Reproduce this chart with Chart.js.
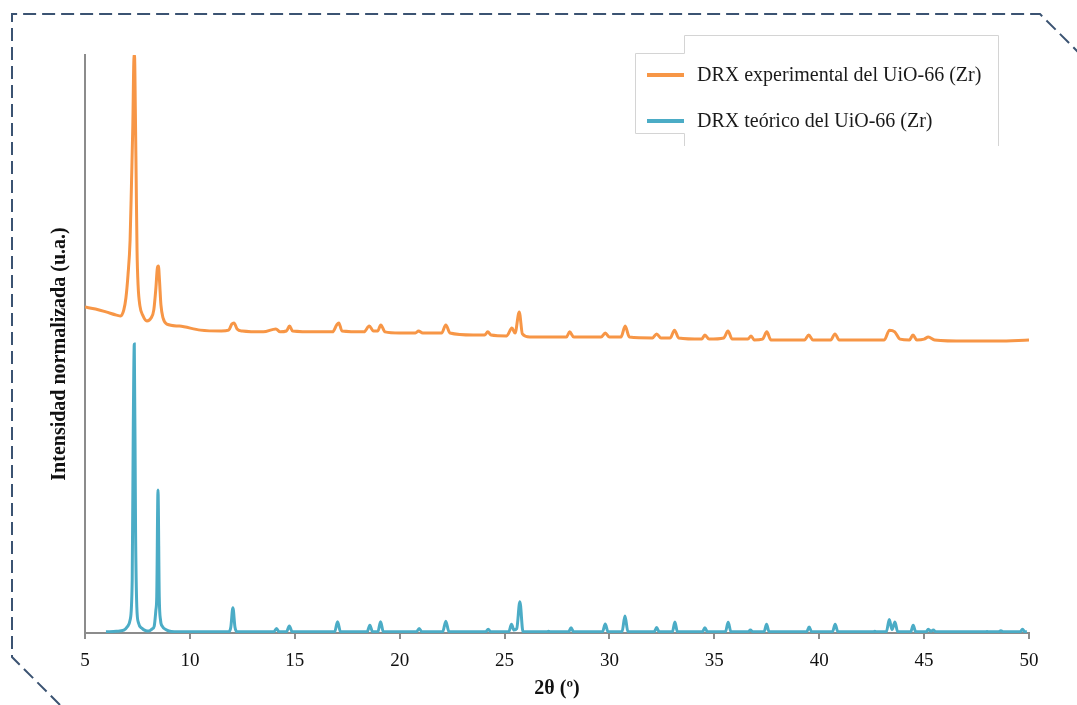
<!DOCTYPE html>
<html>
<head>
<meta charset="utf-8">
<script src="https://cdn.jsdelivr.net/npm/chart.js@4"></script>
<style>
  html, body { margin: 0; background: #fff; }
</style>
</head>
<body>
<canvas id="drx" width="1077" height="705"></canvas>
<script>
// Difractograma experimental (2θ, intensidad normalizada, desplazado hacia arriba)
const experimental = [
  [5.0, 1.128], [5.5, 1.121], [6.0, 1.111], [6.5, 1.100], [6.7, 1.097], [6.85, 1.118],
  [6.95, 1.159], [7.05, 1.239], [7.15, 1.360], [7.22, 1.567], [7.28, 1.758], [7.33, 1.983],
  [7.36, 2.000], [7.40, 1.810], [7.44, 1.567], [7.48, 1.325], [7.53, 1.204], [7.62, 1.131],
  [7.75, 1.100], [7.95, 1.080], [8.15, 1.090], [8.28, 1.118], [8.38, 1.194], [8.45, 1.263],
  [8.5, 1.270], [8.55, 1.221], [8.62, 1.135], [8.72, 1.090], [8.9, 1.069], [9.5, 1.062],
  [10.5, 1.048], [11.5, 1.045], [11.85, 1.048], [12.0, 1.069], [12.1, 1.073], [12.25, 1.052],
  [12.5, 1.045], [13.5, 1.042], [14.1, 1.052], [14.3, 1.042], [14.6, 1.045], [14.75, 1.062],
  [14.9, 1.045], [16.0, 1.042], [16.8, 1.042], [17.0, 1.066], [17.1, 1.073], [17.25, 1.045],
  [18.3, 1.042], [18.55, 1.062], [18.75, 1.045], [18.95, 1.045], [19.1, 1.066], [19.3, 1.042],
  [20.0, 1.038], [20.75, 1.038], [20.9, 1.045], [21.1, 1.038], [22.0, 1.038], [22.2, 1.066],
  [22.4, 1.038], [23.5, 1.031], [24.05, 1.031], [24.2, 1.042], [24.35, 1.031], [25.1, 1.028],
  [25.35, 1.055], [25.5, 1.038], [25.7, 1.111], [25.85, 1.035], [26.2, 1.024], [27.5, 1.024],
  [27.95, 1.024], [28.1, 1.042], [28.3, 1.024], [29.6, 1.024], [29.8, 1.038], [30.0, 1.024],
  [30.55, 1.024], [30.75, 1.062], [30.95, 1.024], [32.05, 1.021], [32.25, 1.035], [32.45, 1.021],
  [32.9, 1.021], [33.1, 1.048], [33.3, 1.021], [34.4, 1.017], [34.55, 1.031], [34.75, 1.017],
  [35.45, 1.021], [35.65, 1.045], [35.85, 1.017], [36.6, 1.017], [36.75, 1.028], [36.9, 1.014],
  [37.3, 1.017], [37.5, 1.042], [37.7, 1.014], [39.3, 1.014], [39.5, 1.031], [39.7, 1.014],
  [40.55, 1.014], [40.75, 1.035], [40.95, 1.014], [43.1, 1.014], [43.35, 1.048], [43.6, 1.042],
  [43.85, 1.017], [44.3, 1.014], [44.47, 1.031], [44.65, 1.014], [45.0, 1.017], [45.2, 1.024],
  [45.5, 1.014], [47.0, 1.010], [48.5, 1.010], [50.0, 1.014]
];

// Patrón teórico calculado (2θ, intensidad normalizada)
const theoretical = [
  [6.0, 0.004], [6.5, 0.006], [6.85, 0.010], [7.05, 0.025], [7.15, 0.045], [7.25, 0.183],
  [7.30, 0.699], [7.35, 1.000], [7.41, 0.356], [7.47, 0.090], [7.55, 0.035], [7.7, 0.017],
  [7.9, 0.008], [8.05, 0.007], [8.2, 0.014], [8.3, 0.024], [8.38, 0.080], [8.42, 0.125],
  [8.48, 0.495], [8.54, 0.125], [8.6, 0.045], [8.68, 0.024], [8.9, 0.010], [9.4, 0.004],
  [11.85, 0.004], [11.95, 0.020], [12.05, 0.087], [12.15, 0.020], [12.25, 0.004],
  [14.0, 0.004], [14.13, 0.016], [14.25, 0.004], [14.6, 0.004], [14.74, 0.024], [14.88, 0.004],
  [16.9, 0.004], [17.04, 0.039], [17.18, 0.004], [18.45, 0.004], [18.58, 0.027], [18.7, 0.005],
  [18.96, 0.004], [19.09, 0.039], [19.22, 0.004], [20.8, 0.004], [20.93, 0.016], [21.06, 0.004],
  [22.05, 0.004], [22.2, 0.041], [22.35, 0.004], [24.1, 0.004], [24.22, 0.013], [24.34, 0.004],
  [25.2, 0.004], [25.33, 0.030], [25.45, 0.010], [25.58, 0.015], [25.73, 0.108], [25.88, 0.004],
  [27.0, 0.004], [27.1, 0.006], [27.2, 0.004], [28.05, 0.004], [28.17, 0.018], [28.29, 0.004],
  [29.67, 0.004], [29.8, 0.031], [29.93, 0.004], [30.6, 0.004], [30.74, 0.059], [30.88, 0.004],
  [32.13, 0.004], [32.25, 0.019], [32.37, 0.004], [33.0, 0.004], [33.12, 0.038], [33.24, 0.004],
  [34.43, 0.004], [34.55, 0.018], [34.67, 0.004], [35.53, 0.004], [35.66, 0.037], [35.79, 0.004],
  [36.6, 0.004], [36.72, 0.010], [36.84, 0.004], [37.37, 0.004], [37.49, 0.030], [37.61, 0.004],
  [39.4, 0.004], [39.52, 0.021], [39.64, 0.004], [40.63, 0.004], [40.76, 0.030], [40.89, 0.004],
  [42.55, 0.004], [42.65, 0.006], [42.75, 0.004], [43.2, 0.004], [43.34, 0.047], [43.47, 0.012],
  [43.61, 0.038], [43.74, 0.004], [44.36, 0.004], [44.48, 0.027], [44.6, 0.004], [45.1, 0.004],
  [45.2, 0.013], [45.32, 0.006], [45.44, 0.010], [45.56, 0.004], [47.9, 0.004], [48.0, 0.005],
  [48.1, 0.004], [48.55, 0.004], [48.66, 0.008], [48.77, 0.004], [49.58, 0.004], [49.69, 0.013],
  [49.8, 0.004], [49.9, 0.004]
];

const seriesLabels = ['DRX experimental del UiO-66 (Zr)', 'DRX teórico del UiO-66 (Zr)'];
const seriesColors = ['#F79646', '#4BACC6'];

const SERIF = "'Liberation Serif', 'Times New Roman', serif";
const AXIS_GREY = '#8c8c8c';

const toPoints = rows => rows.map(([t, i]) => ({ x: t, y: i }));

// marco discontinuo con esquinas cortadas
const frame = {
  id: 'frame',
  afterDraw(chart) {
    const c = chart.ctx;
    c.save();
    c.strokeStyle = '#3b5372';
    c.lineWidth = 2;
    c.setLineDash([13, 6]);
    c.beginPath();
    c.moveTo(60, 705);
    c.lineTo(12, 657);
    c.lineTo(12, 14);
    c.lineTo(1040, 14);
    c.lineTo(1080, 54);
    c.stroke();
    c.restore();
  }
};

// título del eje vertical
const yTitle = {
  id: 'yTitle',
  afterDraw(chart) {
    const c = chart.ctx;
    c.save();
    c.translate(60, 354);
    c.rotate(-Math.PI / 2);
    c.font = 'bold 20px ' + SERIF;
    c.fillStyle = '#111';
    c.textAlign = 'center';
    c.textBaseline = 'middle';
    c.fillText('Intensidad normalizada (u.a.)', 0, 0);
    c.restore();
  }
};

// leyenda en recuadro arriba a la derecha
const boxLegend = {
  id: 'boxLegend',
  afterDraw(chart) {
    const c = chart.ctx;
    c.save();
    c.strokeStyle = '#d4d4d4';
    c.lineWidth = 1;
    c.beginPath();
    c.moveTo(684.5, 146);
    c.lineTo(684.5, 133.5);
    c.lineTo(635.5, 133.5);
    c.lineTo(635.5, 53.5);
    c.lineTo(684.5, 53.5);
    c.lineTo(684.5, 35.5);
    c.lineTo(998.5, 35.5);
    c.lineTo(998.5, 146);
    c.stroke();

    c.font = '20px ' + SERIF;
    c.textBaseline = 'middle';
    c.fillStyle = '#1a1a1a';
    chart.data.datasets.forEach((ds, i) => {
      const y = 75 + i * 46;
      c.strokeStyle = ds.borderColor;
      c.lineWidth = 4;
      c.beginPath();
      c.moveTo(647, y);
      c.lineTo(684, y);
      c.stroke();
      c.fillText(ds.label, 697, y + 1);
    });
    c.restore();
  }
};

new Chart(document.getElementById('drx'), {
  type: 'line',
  data: {
    datasets: [
      {
        label: seriesLabels[0],
        data: toPoints(experimental),
        borderColor: seriesColors[0],
        borderWidth: 3,
        pointRadius: 0,
        cubicInterpolationMode: 'monotone'
      },
      {
        label: seriesLabels[1],
        data: toPoints(theoretical),
        borderColor: seriesColors[1],
        borderWidth: 3,
        pointRadius: 0,
        cubicInterpolationMode: 'monotone'
      }
    ]
  },
  options: {
    responsive: false,
    animation: false,
    layout: { padding: { top: 55, right: 48, left: 0, bottom: 0 } },
    plugins: {
      legend: { display: false },
      tooltip: { enabled: false }
    },
    scales: {
      x: {
        type: 'linear',
        min: 5,
        max: 50,
        afterFit(scale) { scale.height = 72; },
        ticks: {
          stepSize: 5,
          color: '#111',
          padding: 11,
          font: { family: SERIF, size: 19 }
        },
        grid: {
          drawOnChartArea: false,
          drawTicks: true,
          tickLength: 6,
          color: AXIS_GREY,
          lineWidth: 2
        },
        border: { color: AXIS_GREY, width: 2 },
        title: {
          display: true,
          text: '2θ (º)',
          color: '#111',
          font: { family: SERIF, size: 20, weight: 'bold' },
          padding: { top: 0, bottom: 4 }
        }
      },
      y: {
        min: 0,
        max: 2,
        afterFit(scale) { scale.width = 85; },
        ticks: { display: false },
        grid: { display: false },
        border: { display: true, color: AXIS_GREY, width: 2 }
      }
    }
  },
  plugins: [frame, yTitle, boxLegend]
});
</script>
</body>
</html>
